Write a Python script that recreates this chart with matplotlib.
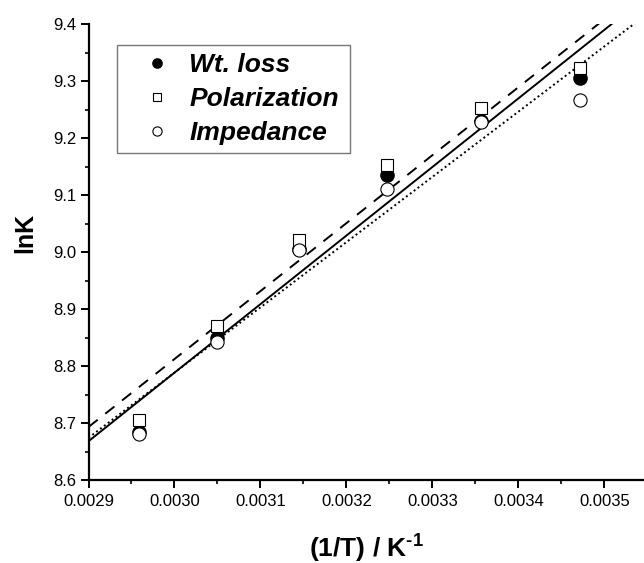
import matplotlib
matplotlib.use("Agg")
import matplotlib.pyplot as plt
from matplotlib.ticker import MultipleLocator, FormatStrFormatter

plt.rcParams['font.family'] = ['Liberation Sans', 'DejaVu Sans']
plt.rcParams['mathtext.fontset'] = 'custom'
plt.rcParams['mathtext.rm'] = 'Liberation Sans:bold'
plt.rcParams['mathtext.bf'] = 'Liberation Sans:bold'

# Data
inv_T = [0.002959, 0.003049, 0.003145, 0.003247, 0.003356, 0.003472]
wt_loss = [8.684, 8.849, 9.005, 9.135, 9.230, 9.305]
polarization = [8.705, 8.870, 9.021, 9.153, 9.253, 9.323]
impedance = [8.680, 8.842, 9.003, 9.110, 9.228, 9.266]

# Straight lines (values at the two ends of the x range)
line_x = [0.0029, 0.00355]
line_solid = [8.668, 9.450]
line_dashed = [8.693, 9.468]
line_dotted = [8.674, 9.418]

fig = plt.figure(figsize=(6.44, 5.63), dpi=100)
ax = fig.add_axes([88.5/644, 83/563, 555.5/644, 456/563])

ax.plot(line_x, line_solid, color='black', lw=1.4, ls='-', zorder=2)
ax.plot(line_x, line_dashed, color='black', lw=1.4, ls=(0, (6, 5)), zorder=2)
ax.plot(line_x, line_dotted, color='black', lw=1.4, ls=(0, (1, 1.5)), zorder=2)

ax.plot(inv_T, wt_loss, 'o', ms=9.5, mfc='black', mec='black', mew=1.0,
        ls='none', zorder=3, label='Wt. loss')
ax.plot(inv_T, polarization, 's', ms=8.5, mfc='white', mec='black', mew=0.8,
        ls='none', zorder=4, label='Polarization')
ax.plot(inv_T, impedance, 'o', ms=9.5, mfc='white', mec='black', mew=0.8,
        ls='none', zorder=5, label='Impedance')

ax.set_xlim(0.0029, 0.003546)
ax.set_ylim(8.6, 9.4)
ax.xaxis.set_major_locator(MultipleLocator(0.0001))
ax.xaxis.set_minor_locator(MultipleLocator(0.00005))
ax.yaxis.set_major_locator(MultipleLocator(0.1))
ax.yaxis.set_minor_locator(MultipleLocator(0.05))
ax.xaxis.set_major_formatter(FormatStrFormatter('%.4f'))
ax.yaxis.set_major_formatter(FormatStrFormatter('%.1f'))

for s in ['top', 'right']:
    ax.spines[s].set_visible(False)
for s in ['left', 'bottom']:
    ax.spines[s].set_linewidth(1.6)

ax.tick_params(axis='both', which='major', direction='out', length=6, width=1.4,
               labelsize=12, pad=3)
ax.tick_params(axis='x', which='major', pad=4)
ax.tick_params(axis='both', which='minor', direction='out', length=3, width=1.2)

fig.text(366/644, 6/563, r'(1/T) / K$^{\text{-1}}$', fontsize=19,
         fontweight='bold', ha='center', va='baseline')
ax.set_ylabel('lnK', fontsize=18, fontweight='bold')
ax.yaxis.set_label_coords(-0.093, 0.5417)

leg = ax.legend(loc='upper left',
                bbox_to_anchor=((117-88.5)/555.5, 1 - 21/456 - 0.01,
                                (350-117)/555.5, 0.01),
                mode='expand',
                prop={'weight': 'bold', 'style': 'italic', 'size': 19},
                markerscale=0.7, frameon=True, fancybox=False,
                borderpad=0.3, labelspacing=0.38, handletextpad=0.0,
                handlelength=2.44, borderaxespad=0)
leg.get_frame().set_edgecolor('#555555')
leg.get_frame().set_linewidth(1.0)

fig.savefig('out.png', dpi=100)
